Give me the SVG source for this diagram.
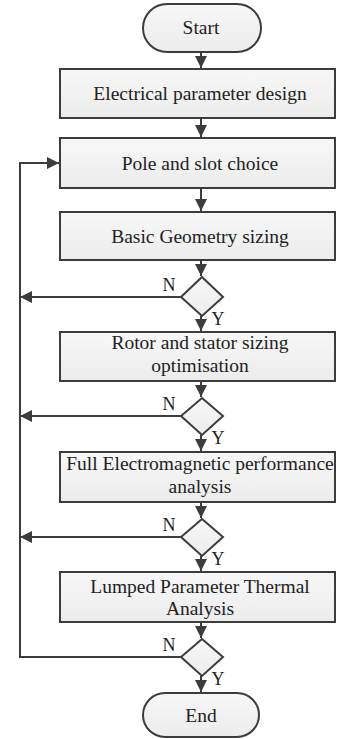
<svg xmlns="http://www.w3.org/2000/svg" width="338" height="739" viewBox="0 0 338 739">
<defs>
<linearGradient id="g" x1="0" y1="0" x2="0" y2="1"><stop offset="0" stop-color="#f7f7f7"/><stop offset="1" stop-color="#ececec"/></linearGradient>
<marker id="ah" markerWidth="12" markerHeight="12" viewBox="0 0 12 12" refX="12" refY="6" orient="auto" markerUnits="userSpaceOnUse"><path d="M0,0 L12,6 L0,12 z" fill="#3c3c3c"/></marker>
</defs>
<style>
.n{fill:url(#g);stroke:#3c3c3c;stroke-width:2}
.c{fill:none;stroke:#3c3c3c;stroke-width:2}
</style>
<rect width="338" height="739" fill="#fff"/>
<g id="connectors">
<line class="c" x1="201" y1="52" x2="201" y2="68" marker-end="url(#ah)"/>
<line class="c" x1="201" y1="118" x2="201" y2="137" marker-end="url(#ah)"/>
<line class="c" x1="201" y1="188" x2="201" y2="211" marker-end="url(#ah)"/>
<line class="c" x1="201" y1="260" x2="201" y2="276" marker-end="url(#ah)"/>
<line class="c" x1="201" y1="316" x2="201" y2="331" marker-end="url(#ah)"/>
<line class="c" x1="201" y1="381" x2="201" y2="397" marker-end="url(#ah)"/>
<line class="c" x1="201" y1="435" x2="201" y2="451" marker-end="url(#ah)"/>
<line class="c" x1="201" y1="502" x2="201" y2="518" marker-end="url(#ah)"/>
<line class="c" x1="201" y1="556" x2="201" y2="571" marker-end="url(#ah)"/>
<line class="c" x1="201" y1="622" x2="201" y2="638" marker-end="url(#ah)"/>
<line class="c" x1="201" y1="676" x2="201" y2="692" marker-end="url(#ah)"/>
<line class="c" x1="181" y1="297" x2="20" y2="297" marker-end="url(#ah)"/>
<line class="c" x1="181" y1="416" x2="20" y2="416" marker-end="url(#ah)"/>
<line class="c" x1="181" y1="537" x2="20" y2="537" marker-end="url(#ah)"/>
<polyline class="c" points="181,657 20,657 20,163 59,163" marker-end="url(#ah)"/>
<g font-family="'Liberation Serif', 'Times New Roman', serif" font-size="18" fill="#222" text-anchor="middle">
<text x="169" y="291">N</text><text x="218" y="325">Y</text>
<text x="169" y="410">N</text><text x="218" y="444">Y</text>
<text x="169" y="531">N</text><text x="218" y="565">Y</text>
<text x="169" y="651">N</text><text x="218" y="685">Y</text>
</g>
</g>
<g font-family="'Liberation Serif', 'Times New Roman', serif" font-size="19.5" fill="#222" text-anchor="middle">
<g id="start"><rect class="n" x="143" y="4" width="118" height="48" rx="24"/><text x="201" y="34">Start</text></g>
<g id="electrical"><rect class="n" x="60" y="69" width="275" height="49"/><text x="200" y="100">Electrical parameter design</text></g>
<g id="pole"><rect class="n" x="60" y="138" width="275" height="50"/><text x="200" y="170">Pole and slot choice</text></g>
<g id="basic"><rect class="n" x="60" y="212" width="275" height="48"/><text x="200" y="243">Basic Geometry sizing</text></g>
<g id="d1"><polygon class="n" points="202,277 223,297 202,316 181,297"/></g>
<g id="rotor"><rect class="n" x="60" y="332" width="275" height="49"/><text x="200" y="349">Rotor and stator sizing</text><text x="200" y="372">optimisation</text></g>
<g id="d2"><polygon class="n" points="202,398 223,416 202,435 181,416"/></g>
<g id="full"><rect class="n" x="60" y="452" width="275" height="50"/><text x="200" y="470">Full Electromagnetic performance</text><text x="200" y="493">analysis</text></g>
<g id="d3"><polygon class="n" points="202,519 223,537 202,556 181,537"/></g>
<g id="lumped"><rect class="n" x="60" y="572" width="275" height="50"/><text x="200" y="593">Lumped Parameter Thermal</text><text x="200" y="615">Analysis</text></g>
<g id="d4"><polygon class="n" points="202,639 223,657 202,676 181,657"/></g>
<g id="end"><rect class="n" x="143" y="693" width="116" height="44" rx="22"/><text x="201" y="722">End</text></g>
</g>
</svg>
